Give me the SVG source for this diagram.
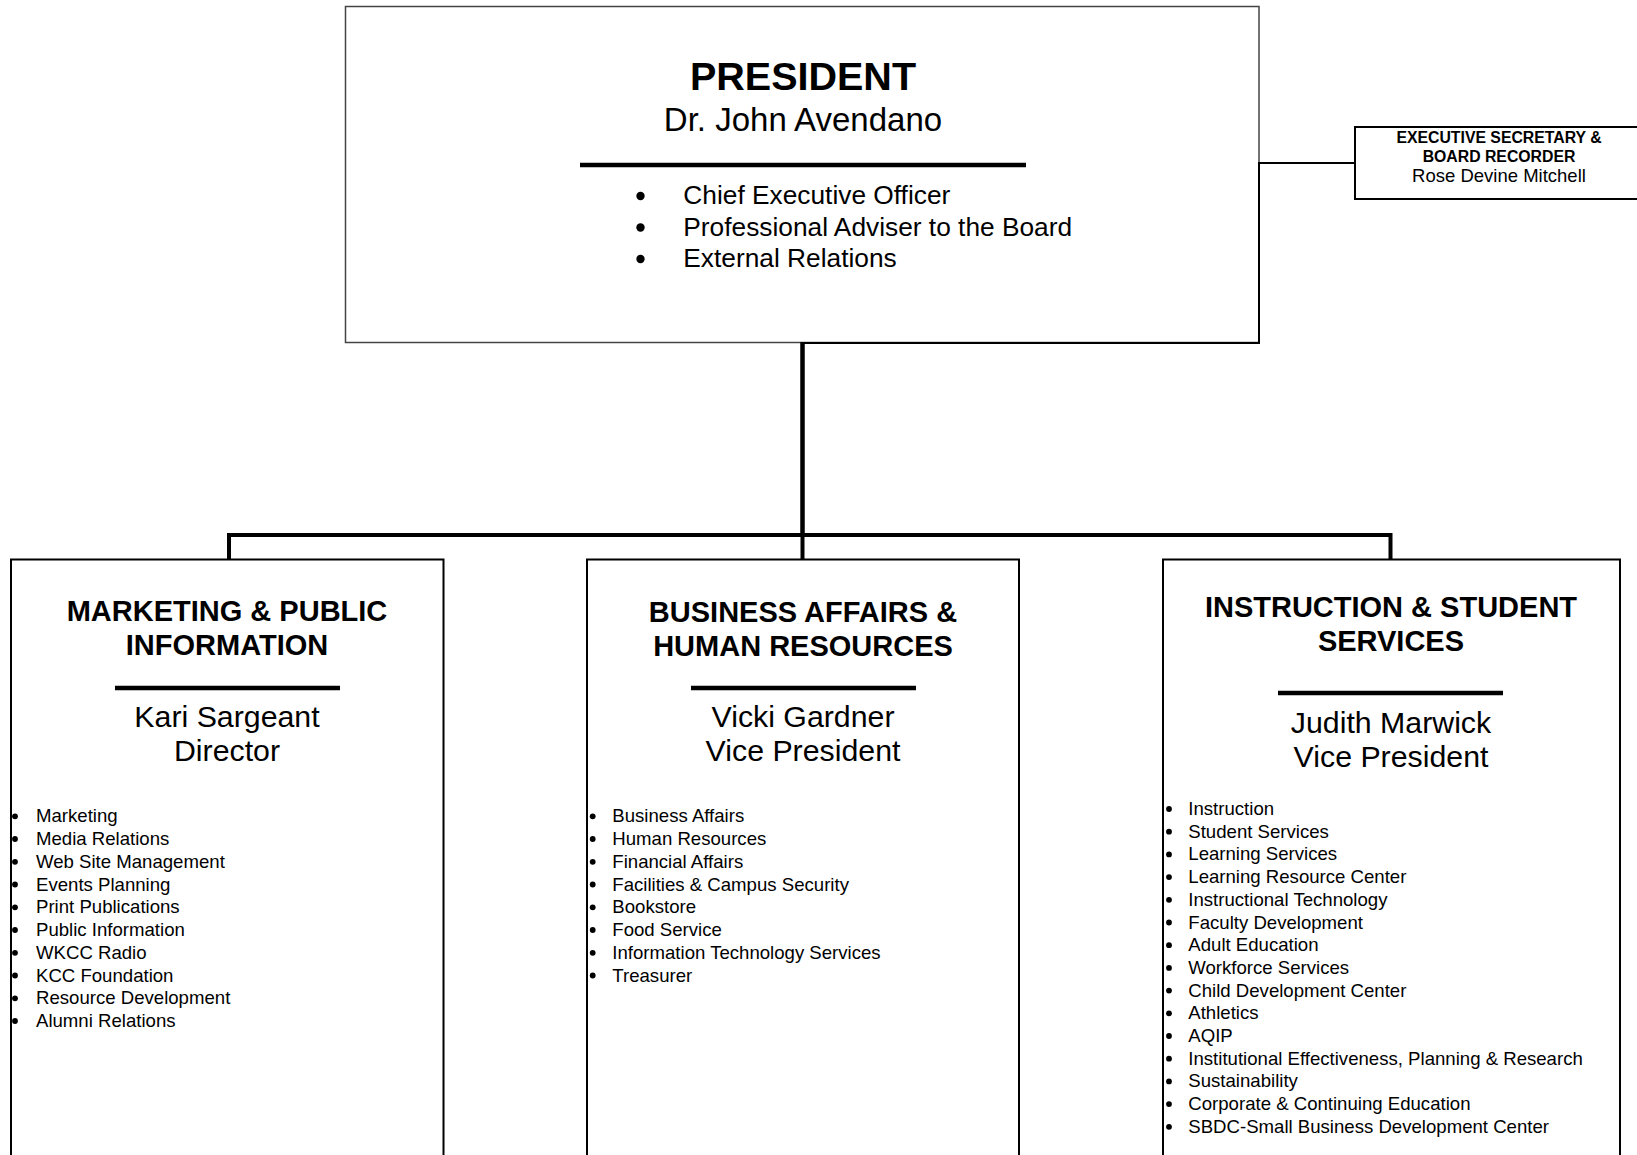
<svg xmlns="http://www.w3.org/2000/svg" width="1637" height="1155" viewBox="0 0 1637 1155">
<style>
text{font-family:"Liberation Sans",Arial,sans-serif;fill:#000}
.c{text-anchor:middle}
.b{font-weight:bold}
.box{fill:#fff;stroke:#000;stroke-width:2}
.pbox{fill:#fff;stroke:#444;stroke-width:1.5}
.div{stroke:#000;stroke-width:4.5}
.li{font-size:18.6px}
.li circle{r:2.9px}
.hd{font-size:29px;font-weight:bold;text-anchor:middle}
.nm{font-size:30.3px;text-anchor:middle}
.conn{fill:none;stroke:#000}
</style>
<rect width="1637" height="1155" fill="#fff"/>

<g id="president">
<rect class="pbox" x="345.5" y="6.5" width="913.5" height="336"/>
<text class="c b" x="803" y="89.5" font-size="39.5">PRESIDENT</text>
<text class="c" x="803" y="130.5" font-size="33">Dr. John Avendano</text>
<line class="div" x1="580" y1="165" x2="1026" y2="165"/>
<circle cx="640.5" cy="196" r="4.2"/>
<circle cx="640.5" cy="227.5" r="4.2"/>
<circle cx="640.5" cy="259" r="4.2"/>
<text x="683.3" y="204" font-size="26.3">Chief Executive Officer</text>
<text x="683.3" y="235.5" font-size="26.3">Professional Adviser to the Board</text>
<text x="683.3" y="267" font-size="26.3">External Relations</text>
</g>

<g id="exec-secretary">
<rect class="box" x="1355" y="127" width="290" height="72"/>
<text class="c b" x="1499" y="143.3" font-size="15.8">EXECUTIVE SECRETARY &amp;</text>
<text class="c b" x="1499" y="161.7" font-size="15.8">BOARD RECORDER</text>
<text class="c" x="1499" y="181.7" font-size="18.5">Rose Devine Mitchell</text>
</g>

<g id="marketing">
<rect class="box" x="11" y="559.5" width="432.5" height="610"/>
<text class="hd" x="227" y="621">MARKETING &amp; PUBLIC</text>
<text class="hd" x="227" y="655">INFORMATION</text>
<line class="div" x1="115" y1="688" x2="340" y2="688"/>
<text class="nm" x="227" y="727">Kari Sargeant</text>
<text class="nm" x="227" y="761">Director</text>
<g class="li">
<circle cx="15" cy="816.3" r="2.9"/><text x="36" y="822.3">Marketing</text>
<circle cx="15" cy="839" r="2.9"/><text x="36" y="845">Media Relations</text>
<circle cx="15" cy="861.8" r="2.9"/><text x="36" y="867.8">Web Site Management</text>
<circle cx="15" cy="884.5" r="2.9"/><text x="36" y="890.5">Events Planning</text>
<circle cx="15" cy="907.3" r="2.9"/><text x="36" y="913.3">Print Publications</text>
<circle cx="15" cy="930" r="2.9"/><text x="36" y="936">Public Information</text>
<circle cx="15" cy="952.8" r="2.9"/><text x="36" y="958.8">WKCC Radio</text>
<circle cx="15" cy="975.5" r="2.9"/><text x="36" y="981.5">KCC Foundation</text>
<circle cx="15" cy="998.3" r="2.9"/><text x="36" y="1004.3">Resource Development</text>
<circle cx="15" cy="1021" r="2.9"/><text x="36" y="1027">Alumni Relations</text>
</g>
</g>

<g id="business">
<rect class="box" x="587" y="559.5" width="432" height="610"/>
<text class="hd" x="803" y="622">BUSINESS AFFAIRS &amp;</text>
<text class="hd" x="803" y="656">HUMAN RESOURCES</text>
<line class="div" x1="691" y1="688" x2="916" y2="688"/>
<text class="nm" x="803" y="727">Vicki Gardner</text>
<text class="nm" x="803" y="761">Vice President</text>
<g class="li">
<circle cx="592.7" cy="816.3" r="2.9"/><text x="612.3" y="822.3">Business Affairs</text>
<circle cx="592.7" cy="839" r="2.9"/><text x="612.3" y="845">Human Resources</text>
<circle cx="592.7" cy="861.8" r="2.9"/><text x="612.3" y="867.8">Financial Affairs</text>
<circle cx="592.7" cy="884.5" r="2.9"/><text x="612.3" y="890.5">Facilities &amp; Campus Security</text>
<circle cx="592.7" cy="907.3" r="2.9"/><text x="612.3" y="913.3">Bookstore</text>
<circle cx="592.7" cy="930" r="2.9"/><text x="612.3" y="936">Food Service</text>
<circle cx="592.7" cy="952.8" r="2.9"/><text x="612.3" y="958.8">Information Technology Services</text>
<circle cx="592.7" cy="975.5" r="2.9"/><text x="612.3" y="981.5">Treasurer</text>
</g>
</g>

<g id="instruction">
<rect class="box" x="1163" y="559.5" width="457" height="610"/>
<text class="hd" x="1391" y="617">INSTRUCTION &amp; STUDENT</text>
<text class="hd" x="1391" y="651">SERVICES</text>
<line class="div" x1="1278" y1="693" x2="1503" y2="693"/>
<text class="nm" x="1391" y="733">Judith Marwick</text>
<text class="nm" x="1391" y="767">Vice President</text>
<g class="li">
<circle cx="1169" cy="809" r="2.9"/><text x="1188.3" y="815">Instruction</text>
<circle cx="1169" cy="831.7" r="2.9"/><text x="1188.3" y="837.7">Student Services</text>
<circle cx="1169" cy="854.4" r="2.9"/><text x="1188.3" y="860.4">Learning Services</text>
<circle cx="1169" cy="877.1" r="2.9"/><text x="1188.3" y="883.1">Learning Resource Center</text>
<circle cx="1169" cy="899.8" r="2.9"/><text x="1188.3" y="905.8">Instructional Technology</text>
<circle cx="1169" cy="922.5" r="2.9"/><text x="1188.3" y="928.5">Faculty Development</text>
<circle cx="1169" cy="945.2" r="2.9"/><text x="1188.3" y="951.2">Adult Education</text>
<circle cx="1169" cy="967.9" r="2.9"/><text x="1188.3" y="973.9">Workforce Services</text>
<circle cx="1169" cy="990.6" r="2.9"/><text x="1188.3" y="996.6">Child Development Center</text>
<circle cx="1169" cy="1013.3" r="2.9"/><text x="1188.3" y="1019.3">Athletics</text>
<circle cx="1169" cy="1036" r="2.9"/><text x="1188.3" y="1042">AQIP</text>
<circle cx="1169" cy="1058.7" r="2.9"/><text x="1188.3" y="1064.7">Institutional Effectiveness, Planning &amp; Research</text>
<circle cx="1169" cy="1081.4" r="2.9"/><text x="1188.3" y="1087.4">Sustainability</text>
<circle cx="1169" cy="1104.1" r="2.9"/><text x="1188.3" y="1110.1">Corporate &amp; Continuing Education</text>
<circle cx="1169" cy="1126.8" r="2.9"/><text x="1188.3" y="1132.8">SBDC-Small Business Development Center</text>
</g>
</g>

<g id="connectors">
<path class="conn" stroke-width="2" d="M1355 163 H1259 V343 H802.5"/>
<path class="conn" stroke-width="4.5" d="M802.5 342 V535"/>
<path class="conn" stroke-width="4" d="M229 559 V535 H1390.5 V559"/>
<path class="conn" stroke-width="4" d="M802.5 535 V559"/>
</g>
</svg>
